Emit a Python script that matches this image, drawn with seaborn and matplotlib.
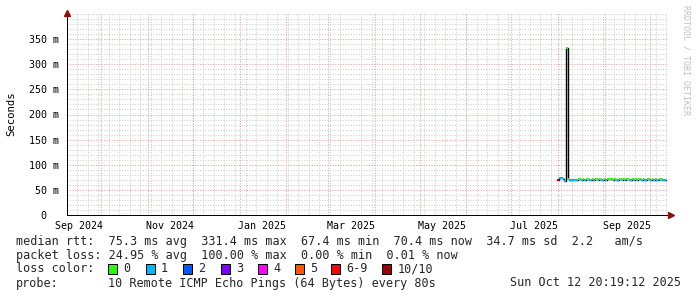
import numpy as np
import pandas as pd
import matplotlib
matplotlib.use("Agg")
import matplotlib.pyplot as plt
import matplotlib.dates as mdates
from matplotlib.ticker import MultipleLocator, FixedLocator, FixedFormatter
from matplotlib.patches import Rectangle
import seaborn as sns

# ---------------- data ----------------
view_start = "2024-09-07 20:19:12"
view_end = "2025-10-12 20:19:12"

# irregular samples around the spike (start time of each sample)
spike_times = ["2025-07-31 15:00", "2025-08-01 09:00", "2025-08-02 09:00",
               "2025-08-03 09:00", "2025-08-04 02:00", "2025-08-04 18:00",
               "2025-08-05 04:00", "2025-08-06 04:00", "2025-08-06 10:00",
               "2025-08-07 10:00", "2025-08-07 20:00"]
spike_ms = [70.5, 73.5, 73.5, 73.2, 72.6, 70.5, 67.4, 166.0, 331.4, 249.0, 70.8]
spike_loss = ["6-9", "1", "1", "1", "1", "1", "1", "1", "0", "1", "0"]

# daily samples afterwards
flat_first = "2025-08-08 12:00"
flat_ms = [70.6, 70.6, 70.6, 70.6, 70.6, 70.6, 71.0, 71.0, 70.6, 71.0, 70.6,
           71.0, 71.0, 70.6, 70.6, 71.0, 70.6, 71.0, 71.0, 70.6, 71.0,
           69.6, 70.6, 71.0, 70.6, 71.0, 71.0, 72.4, 71.0, 70.6, 71.0,
           70.6, 70.6, 72.4, 71.0, 70.6, 71.0, 70.6, 71.0, 71.0, 70.6,
           70.6, 71.0, 70.6, 71.0, 70.6, 71.0, 71.0, 70.6, 71.0, 70.6,
           70.6, 71.0, 71.0, 70.6, 71.0, 70.6, 71.0, 70.6, 70.6, 71.0,
           71.0, 70.6, 70.6, 70.4]
flat_loss = ["1", "1", "1", "1", "1", "1", "0", "0", "1", "0", "1",
             "0", "0", "1", "1", "0", "1", "0", "0", "1", "0",
             "1", "1", "0", "1", "0", "0", "0", "0", "1", "0",
             "1", "1", "0", "0", "1", "0", "1", "0", "0", "1",
             "1", "0", "1", "0", "1", "0", "0", "1", "0", "1",
             "1", "0", "0", "1", "0", "1", "0", "1", "1", "0",
             "0", "1", "1", "1"]
data_end = "2025-10-11 20:00"

loss_labels = ["0", "1", "2", "3", "4", "5", "6-9", "10/10"]
loss_colors = ["#26ff00", "#00b8ff", "#0059ff", "#7e00ff",
               "#ff00ff", "#ff5500", "#ff0000", "#a10000"]

y_ticks = [0, 0.05, 0.10, 0.15, 0.20, 0.25, 0.30, 0.35]
y_tick_labels = ["0  ", "50 m", "100 m", "150 m", "200 m", "250 m", "300 m", "350 m"]
x_label_dates = ["2024-09-16", "2024-11-16", "2025-01-16", "2025-03-16",
                 "2025-05-16", "2025-07-16", "2025-09-16"]
x_labels = ["Sep 2024", "Nov 2024", "Jan 2025", "Mar 2025",
            "May 2025", "Jul 2025", "Sep 2025"]

legend_rtt = "median rtt:  75.3 ms avg  331.4 ms max  67.4 ms min  70.4 ms now  34.7 ms sd  2.2   am/s"
legend_loss = "packet loss: 24.95 % avg  100.00 % max  0.00 % min  0.01 % now"
probe_text = "10 Remote ICMP Echo Pings (64 Bytes) every 80s"
date_text = "Sun Oct 12 20:19:12 2025"

# ---------------- build table ----------------
flat_times = pd.date_range(flat_first, periods=len(flat_ms), freq="D")
starts = list(pd.to_datetime(spike_times)) + list(flat_times)
ends = starts[1:] + [pd.Timestamp(data_end)]
df = pd.DataFrame({
    "start": starts,
    "end": ends,
    "sec": np.array(spike_ms + flat_ms) / 1000.0,
    "loss": spike_loss + flat_loss,
})
cmap = dict(zip(loss_labels, loss_colors))
df["color"] = df["loss"].map(cmap)
step_df = pd.concat([df[["start", "sec"]],
                     pd.DataFrame({"start": [pd.Timestamp(data_end)],
                                   "sec": [df["sec"].iloc[-1]]})],
                    ignore_index=True)

# ---------------- style ----------------
sns.set_style("white")
plt.rcParams["font.family"] = ["DejaVu Sans Mono", "DejaVu Sans"]

W, H = 697, 297
fig = plt.figure(figsize=(W / 100, H / 100), dpi=100)
fig.patch.set_facecolor("white")
ax = fig.add_axes([66.5 / W, (H - 215) / H, 601 / W, 202 / H])
ax.set_facecolor("white")

x0, x1 = pd.Timestamp(view_start), pd.Timestamp(view_end)
ax.set_xlim(x0, x1)
ax.set_ylim(0, 0.4 * 202 / 201)

# grids
px = 0.72
dots = (0, (1, 1.6))
ax.xaxis.set_minor_locator(mdates.WeekdayLocator(byweekday=mdates.SU))
ax.yaxis.set_minor_locator(MultipleLocator(0.01))
ax.grid(which="minor", axis="both", color="#cdcdcd", lw=px, ls=dots)
ax.yaxis.set_major_locator(FixedLocator(y_ticks))
ax.yaxis.set_major_formatter(FixedFormatter(y_tick_labels))
ax.grid(which="major", axis="y", color="#e99c9c", lw=px, ls=dots)
for d in pd.date_range("2024-10-01", "2025-10-01", freq="MS"):
    ax.axvline(d, color="#e99c9c", lw=px, ls=dots, zorder=0.6)
ax.xaxis.set_major_locator(FixedLocator(mdates.date2num(pd.to_datetime(x_label_dates))))
ax.xaxis.set_major_formatter(FixedFormatter(x_labels))
ax.set_axisbelow(True)

# data: black step line + loss colored segments
sns.lineplot(data=step_df, x="start", y="sec", ax=ax, color="black",
             lw=1.4 * px, drawstyle="steps-post", estimator=None, zorder=3)
ax.hlines(df["sec"], df["start"], df["end"], colors=df["color"], lw=2 * px, zorder=4)

# axes
for s in ["top", "right"]:
    ax.spines[s].set_visible(False)
for s in ["left", "bottom"]:
    ax.spines[s].set_color("black")
    ax.spines[s].set_linewidth(px)
ax.tick_params(axis="y", which="major", length=2.2, width=px, pad=3, labelsize=7.2, colors="black")
ax.tick_params(axis="x", which="major", length=0, pad=4, labelsize=7.2, colors="black")
ax.tick_params(which="minor", length=0)
ax.set_xlabel("")
ax.set_ylabel("")

# arrows
ax.plot([0], [1.0], marker="^", ms=5, color="#8b1010", transform=ax.transAxes,
        clip_on=False, zorder=6)
ax.plot([1.006], [0], marker=">", ms=5, color="#8b1010", transform=ax.transAxes,
        clip_on=False, zorder=6)

# labels
fig.text(11 / W, 1 - 114 / H, "Seconds", rotation=90, ha="center", va="center",
         fontsize=7.7, color="black")
fig.text(686 / W, 1 - 5 / H, "RRDTOOL / TOBI OETIKER", rotation=270, ha="center",
         va="top", fontsize=6, color="#c0c0c0")

fs = 8.5
fig.text(16 / W, 1 - 241 / H, legend_rtt, ha="left", va="center", fontsize=fs)
fig.text(16 / W, 1 - 255 / H, legend_loss, ha="left", va="center", fontsize=fs)
fig.text(16 / W, 1 - 269 / H, "loss color:", ha="left", va="center", fontsize=fs)
fig.text(16 / W, 1 - 283 / H, "probe:", ha="left", va="center", fontsize=fs)
fig.text(108 / W, 1 - 283 / H, probe_text, ha="left", va="center", fontsize=fs)
fig.text(681 / W, 1 - 283 / H, date_text, ha="right", va="center", fontsize=fs)

sq_x = [108, 145.5, 183, 220.5, 258, 294.5, 331, 382]
for lab, col, sx in zip(loss_labels, loss_colors, sq_x):
    fig.patches.append(Rectangle((sx / W, 1 - 274 / H), 9 / W, 10 / H,
                                 transform=fig.transFigure, facecolor=col,
                                 edgecolor="black", lw=px, figure=fig))
    fig.text((sx + 15.5) / W, 1 - 269 / H, lab, ha="left", va="center", fontsize=fs)

fig.savefig("out.png", dpi=100, facecolor="white")
